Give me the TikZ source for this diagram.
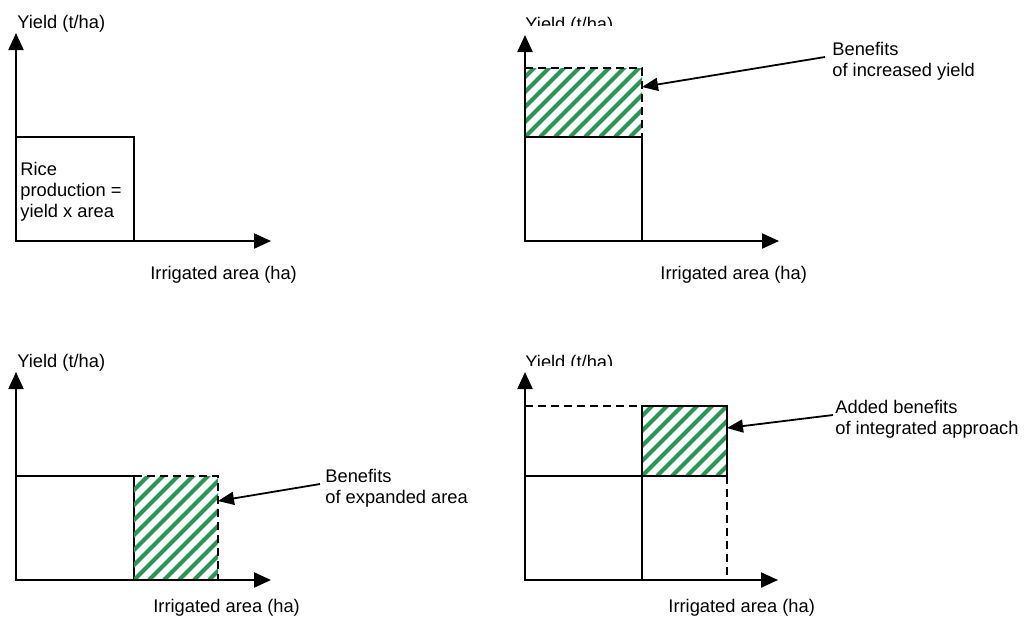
\documentclass[tikz,border=0pt]{standalone}
\usepackage{fontspec}
\setmainfont{Liberation Sans}
\usetikzlibrary{arrows.meta}
\definecolor{HatchGreen}{RGB}{40,150,85}
% green diagonal stripes clipped to a box
\newcommand{\hatchbox}[4]{%
  \begin{scope}
    \clip (#1,#2) rectangle (#3,#4);
    \foreach \d in {-135,-120,...,135}
      \draw[hatch] (#1+\d,#4) -- ++(170,-170);
  \end{scope}}

\begin{document}
\begin{tikzpicture}[x=0.5pt,y=-0.5pt,
  axis/.style={line width=1.1pt,{Triangle[length=8.5pt,width=7.5pt]}-{Triangle[length=8.5pt,width=7.5pt]}},
  edge/.style={line width=0.9pt},
  dashedge/.style={line width=0.9pt,dash pattern=on 4pt off 2.5pt},
  hatch/.style={HatchGreen,line width=2pt},
  callout/.style={line width=0.9pt,-{Triangle[length=8pt,width=6.5pt]}},
  lbl/.style={inner sep=0pt,font=\fontsize{9.15}{10.5}\selectfont,anchor=base west,align=left}]
\useasboundingbox (0,0) rectangle (1031,616);

% origin, y tip and x tip of each panel
\foreach \n/\ox/\oy/\ytip/\xtip in {a/16/241/33/271,b/525/241/35/779,c/16/580/372/271,d/525/580/372/778} {
  \coordinate (o\n) at (\ox,\oy);
  \coordinate (y\n) at (\ox,\ytip);
  \coordinate (x\n) at (\xtip,\oy);
}

% panel a
\draw[edge] (16,137) -| (134,241);
\node[lbl] (yielda) at (17,28) {Yield (t/ha)};
\node[lbl] (areaa) at (150,279) {Irrigated area (ha)};
\node[lbl] (rice) at (20,217) {Rice\\production =\\yield x area};

% panel b
\hatchbox{525}{68}{642}{137}
\draw[dashedge] (525,68) -| (642,137);
\draw[edge] (525,137) -| (642,241);
\begin{scope}
  \clip (500,0) rectangle (700,25);
  \node[lbl] (yieldb) at (525,30) {Yield (t/ha)};
\end{scope}
\node[lbl] (areab) at (660,279) {Irrigated area (ha)};
\node[lbl] (benb) at (832,76) {Benefits\\of increased yield};
\coordinate (sb) at (825,57);
\coordinate (tb) at (642,87);
\draw[callout] (sb) -- (tb);

% panel c
\draw[edge] (16,476) -| (134,580);
\hatchbox{134}{476}{218}{580}
\draw[dashedge] (134,476) -| (218,580);
\node[lbl] (yieldc) at (17,367) {Yield (t/ha)};
\node[lbl] (areac) at (153,612) {Irrigated area (ha)};
\node[lbl] (benc) at (325,503) {Benefits\\of expanded area};
\coordinate (sc) at (320,484);
\coordinate (tc) at (218,501);
\draw[callout] (sc) -- (tc);

% panel d
\draw[dashedge] (525,406) -- (642,406);
\hatchbox{642}{406}{727}{476}
\draw[edge] (642,406) rectangle (727,476);
\draw[edge] (525,476) -- (642,476) -- (642,580);
\draw[dashedge] (727,476) -- (727,580);
\begin{scope}
  \clip (500,340) rectangle (700,365);
  \node[lbl] (yieldd) at (525,368) {Yield (t/ha)};
\end{scope}
\node[lbl] (aread) at (668,612) {Irrigated area (ha)};
\node[lbl] (bend) at (835,434) {Added benefits\\of integrated approach};
\coordinate (sd) at (833,415);
\coordinate (td) at (727,428);
\draw[callout] (sd) -- (td);

% axes
\foreach \n in {a,b,c,d}
  \draw[axis] (y\n) -- (o\n) -- (x\n);
\end{tikzpicture}
\end{document}
